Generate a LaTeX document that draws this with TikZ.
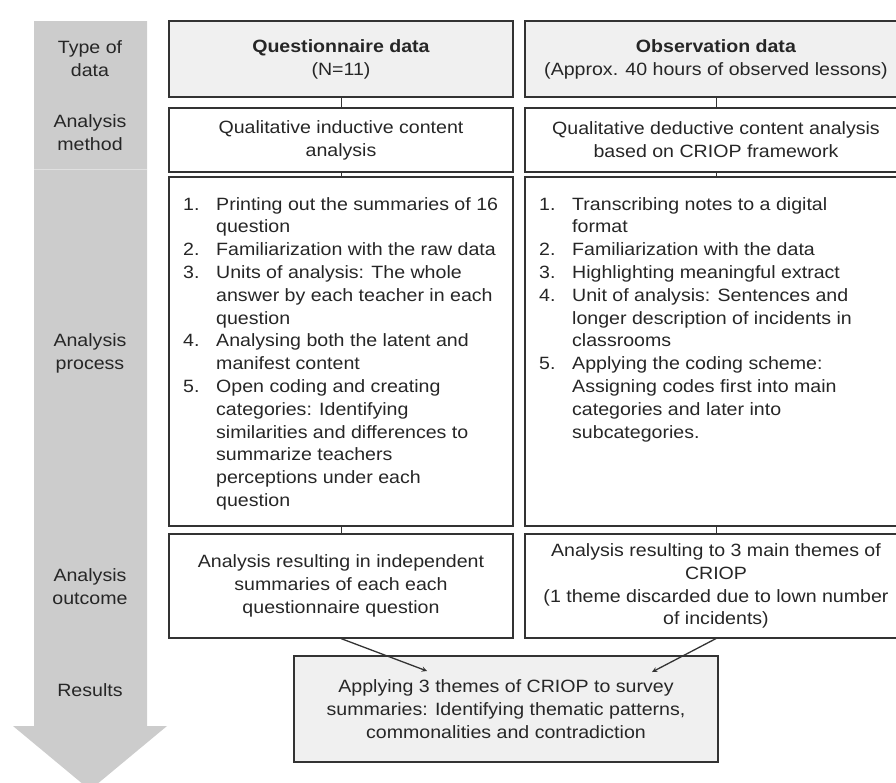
\documentclass[tikz,border=0pt]{standalone}
\usepackage{fontspec}
\setmainfont[FakeStretch=1.1]{Liberation Sans}
\usepackage{tikz}

\newcommand{\listnum}[1]{\makebox[33pt][l]{#1}}
\newcommand{\listcont}{\hspace*{33pt}}

\begin{document}
\begin{tikzpicture}[x=1pt,y=-1pt,
  every node/.style={font=\fontsize{17.8}{22.8}\selectfont, text=black!85},
  box/.style={draw=black!80, line width=1.1pt, align=center, inner sep=0pt},
  hdr/.style={box, fill=black!6},
  lbl/.style={align=center},
  steps/.style={anchor=north west, align=left, inner sep=0pt},
  link/.style={draw=black!80, line width=0.9pt}]
  \useasboundingbox (0,0) rectangle (896,782);
  % grey arrow on the left
  \fill[black!20] (34,21) -- (147,21) -- (147,726) -- (167,726) -- (90,790) -- (13,726) -- (34,726) -- cycle;
  \draw[black!12, line width=0.8pt] (34,169) -- (147,169);
  \node[lbl] (ltype) at (90,58.5) {Type of\\data};
  \node[lbl] (lmeth) at (90,133) {Analysis\\method};
  \node[lbl] (lproc) at (90,353) {Analysis\\process};
  \node[lbl] (lout) at (90,587) {Analysis\\outcome};
  \node[lbl] (lres) at (90,690) {Results};

  % questionnaire column
  \node[hdr, minimum width=344pt, minimum height=76pt] (qdata) at (341,59) {\textbf{Questionnaire data}\\(N=11)};
  \node[box, minimum width=344pt, minimum height=64pt] (qmeth) at (341,140) {Qualitative inductive content\\analysis};
  \node[box, minimum width=344pt, minimum height=349pt] (qproc) at (341,351.5) {};
  \node[box, minimum width=344pt, minimum height=104pt] (qout) at (341,586) {Analysis resulting in independent\\summaries of each each\\questionnaire question};
  \node[steps] (qlist) at (183,197) {\listnum{1.}Printing out the summaries of 16\\
    \listcont question\\
    \listnum{2.}Familiarization with the raw data\\
    \listnum{3.}Units of analysis: The whole\\
    \listcont answer by each teacher in each\\
    \listcont question\\
    \listnum{4.}Analysing both the latent and\\
    \listcont manifest content\\
    \listnum{5.}Open coding and creating\\
    \listcont categories: Identifying\\
    \listcont similarities and differences to\\
    \listcont summarize teachers\\
    \listcont perceptions under each\\
    \listcont question};

  % observation column
  \node[hdr, minimum width=382pt, minimum height=76pt] (odata) at (716,59) {\textbf{Observation data}\\(Approx. 40 hours of observed lessons)};
  \node[box, minimum width=382pt, minimum height=64pt] (ometh) at (716,140) {Qualitative deductive content analysis\\based on CRIOP framework};
  \node[box, minimum width=382pt, minimum height=349pt] (oproc) at (716,351.5) {};
  \node[box, minimum width=382pt, minimum height=104pt] (oout) at (716,586) {Analysis resulting to 3 main themes of\\CRIOP\\(1 theme discarded due to lown number\\of incidents)};
  \node[steps] (olist) at (539,197) {\listnum{1.}Transcribing notes to a digital\\
    \listcont format\\
    \listnum{2.}Familiarization with the data\\
    \listnum{3.}Highlighting meaningful extract\\
    \listnum{4.}Unit of analysis: Sentences and\\
    \listcont longer description of incidents in\\
    \listcont classrooms\\
    \listnum{5.}Applying the coding scheme:\\
    \listcont Assigning codes first into main\\
    \listcont categories and later into\\
    \listcont subcategories.};

  % results
  \node[hdr, minimum width=424pt, minimum height=106pt] (res) at (506,709) {Applying 3 themes of CRIOP to survey\\summaries: Identifying thematic patterns,\\commonalities and contradiction};
  \coordinate (resL) at (427,671);
  \coordinate (resR) at (652,672);

  \draw[link] (qdata.south) -- (qmeth.north);
  \draw[link] (qmeth.south) -- (qproc.north);
  \draw[link] (qproc.south) -- (qout.north);
  \draw[link] (odata.south) -- (ometh.north);
  \draw[link] (ometh.south) -- (oproc.north);
  \draw[link] (oproc.south) -- (oout.north);
  \draw[link,->,>=stealth,line width=1.3pt] (qout.south) -- (resL);
  \draw[link,->,>=stealth,line width=1.3pt] (oout.south) -- (resR);
\end{tikzpicture}
\end{document}
